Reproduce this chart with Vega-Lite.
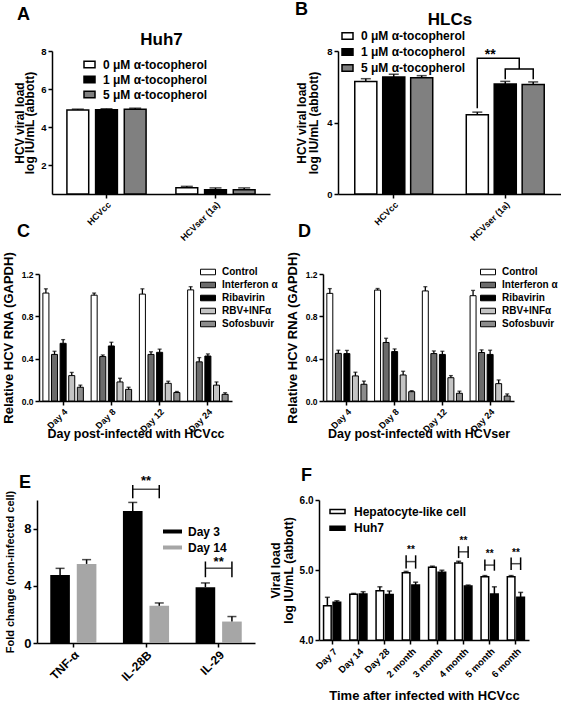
{
  "$schema": "https://vega.github.io/schema/vega-lite/v6.json",
  "background": "white",
  "padding": {"left": 2, "top": 1, "right": 0, "bottom": 0},
  "config": {
    "font": "Liberation Sans",
    "view": {"stroke": null},
    "axis": {"domainColor": "black", "domainWidth": 1.5, "tickColor": "black", "tickWidth": 1.5, "tickSize": 4, "labelColor": "black", "labelFontWeight": "bold", "titleFontWeight": "bold", "titleColor": "black", "grid": false, "labelFont": "Liberation Sans", "titleFont": "Liberation Sans", "labelPadding": 2},
    "legend": {"labelFontWeight": "bold", "labelColor": "black", "labelFont": "Liberation Sans", "labelLimit": 300, "symbolOpacity": 1},
    "title": {"fontWeight": "bold", "font": "Liberation Sans", "color": "black", "anchor": "start", "fontSize": 18, "frame": "group"}
  },
  "align": "none",
  "spacing": -21,
  "resolve": {"scale": {"fill": "independent", "xOffset": "independent"}},
  "vconcat": [
    {
      "spacing": 25,
      "resolve": {"scale": {"fill": "independent", "xOffset": "independent"}},
      "hconcat": [
        {
          "width": 233, "height": 143,
          "title": {"text": "A", "dx": -20, "offset": 6},
          "data": {"values": [
            {"cat": "HCVcc", "conc": "0 μM α-tocopherol", "v": 4.9, "hi": 4.95},
            {"cat": "HCVcc", "conc": "1 μM α-tocopherol", "v": 4.92, "hi": 4.97},
            {"cat": "HCVcc", "conc": "5 μM α-tocopherol", "v": 4.95, "hi": 5.0},
            {"cat": "HCVser (1a)", "conc": "0 μM α-tocopherol", "v": 0.83, "hi": 0.9},
            {"cat": "HCVser (1a)", "conc": "1 μM α-tocopherol", "v": 0.72, "hi": 0.82},
            {"cat": "HCVser (1a)", "conc": "5 μM α-tocopherol", "v": 0.72, "hi": 0.82}
          ]},
          "resolve": {"axis": {"x": "independent"}},
          "layer": [
            {
              "mark": {"type": "bar", "stroke": "black", "strokeWidth": 1.5},
              "encoding": {
                "x": {"field": "cat", "type": "nominal", "sort": null, "scale": {"paddingInner": 0, "paddingOuter": 0, "rangeMin": 15}, "axis": {"title": null, "labelAngle": -45, "labelAlign": "right", "labelBaseline": "top", "labelFontSize": 9}},
                "xOffset": {"field": "conc", "type": "nominal", "sort": null, "scale": {"paddingInner": 0.24, "paddingOuter": 0.52}},
                "y": {"field": "v", "type": "quantitative", "scale": {"domain": [0.5, 8], "nice": false, "zero": false}, "axis": {"offset": -15, "values": [2, 4, 6, 8], "title": ["HCV viral load", "log IU/mL (abbott)"], "titleFontSize": 12, "titleLineHeight": 10.5, "labelFontSize": 9.5, "titlePadding": 4}},
                "y2": {"datum": 0.5},
                "fill": {"field": "conc", "type": "nominal", "sort": null, "scale": {"range": ["white", "black", "#808080"]}, "legend": {"orient": "none", "legendX": 46, "legendY": 7, "title": null, "symbolType": "M-1,-0.6H1V0.6H-1Z", "symbolSize": 121, "symbolStrokeColor": "black", "symbolStrokeWidth": 1.5, "labelFontSize": 12, "labelOffset": 7, "rowPadding": 2}}
              }
            },
            {
              "mark": {"type": "rule", "strokeWidth": 1.5, "color": "black"},
              "encoding": {
                "x": {"field": "cat", "type": "nominal", "sort": null, "axis": {"orient": "top", "title": "Huh7", "titleFontSize": 17, "labels": false, "ticks": false, "domain": false, "titlePadding": 3}},
                "xOffset": {"field": "conc", "type": "nominal", "sort": null},
                "y": {"field": "v", "type": "quantitative", "axis": {"offset": -15, "values": [2, 4, 6, 8], "title": ["HCV viral load", "log IU/mL (abbott)"], "titleFontSize": 12, "titleLineHeight": 10.5, "labelFontSize": 9.5, "titlePadding": 4}},
                "y2": {"field": "hi"}
              }
            },
            {
              "mark": {"type": "tick", "thickness": 1.5, "size": 12, "color": "black"},
              "encoding": {
                "x": {"field": "cat", "type": "nominal", "sort": null, "axis": null},
                "xOffset": {"field": "conc", "type": "nominal", "sort": null},
                "y": {"field": "hi", "type": "quantitative", "axis": {"offset": -15, "values": [2, 4, 6, 8], "title": ["HCV viral load", "log IU/mL (abbott)"], "titleFontSize": 12, "titleLineHeight": 10.5, "labelFontSize": 9.5, "titlePadding": 4}}
              }
            }
          ]
        },
        {
          "width": 223, "height": 143,
          "title": {"text": "B", "dx": -43, "offset": -9},
          "resolve": {"scale": {"x": "independent"}, "axis": {"x": "independent"}},
          "layer": [
            {
              "data": {"values": [
                {"cat": "HCVcc", "conc": "0 μM α-tocopherol", "v": 6.3, "hi": 6.45},
                {"cat": "HCVcc", "conc": "1 μM α-tocopherol", "v": 6.55, "hi": 6.7},
                {"cat": "HCVcc", "conc": "5 μM α-tocopherol", "v": 6.5, "hi": 6.62},
                {"cat": "HCVser (1a)", "conc": "0 μM α-tocopherol", "v": 4.43, "hi": 4.58},
                {"cat": "HCVser (1a)", "conc": "1 μM α-tocopherol", "v": 6.15, "hi": 6.3},
                {"cat": "HCVser (1a)", "conc": "5 μM α-tocopherol", "v": 6.12, "hi": 6.27}
              ]},
              "layer": [
                {
                  "mark": {"type": "bar", "stroke": "black", "strokeWidth": 1.5},
                  "encoding": {
                    "x": {"field": "cat", "type": "nominal", "sort": null, "scale": {"paddingInner": 0, "paddingOuter": 0}, "axis": {"title": null, "labelAngle": -45, "labelAlign": "right", "labelBaseline": "top", "labelFontSize": 9}},
                    "xOffset": {"field": "conc", "type": "nominal", "sort": null, "scale": {"paddingInner": 0.21, "paddingOuter": 0.6}},
                    "y": {"field": "v", "type": "quantitative", "scale": {"domain": [0, 8], "nice": false}, "axis": {"values": [0, 2, 4, 6, 8], "title": ["HCV viral load", "log IU/mL (abbott)"], "titleFontSize": 12, "titleLineHeight": 12, "labelFontSize": 9.5, "titlePadding": 6}},
                    "fill": {"field": "conc", "type": "nominal", "sort": null, "scale": {"range": ["white", "black", "#808080"]}, "legend": {"orient": "none", "legendX": 3, "legendY": -21.5, "title": null, "symbolType": "M-1,-0.6H1V0.6H-1Z", "symbolSize": 121, "symbolStrokeColor": "black", "symbolStrokeWidth": 1.5, "labelFontSize": 12, "labelOffset": 7, "rowPadding": 3}}
                  }
                },
                {
                  "mark": {"type": "rule", "strokeWidth": 1.5, "color": "black"},
                  "encoding": {
                    "x": {"field": "cat", "type": "nominal", "sort": null, "axis": {"title": null, "labelAngle": -45, "labelAlign": "right", "labelBaseline": "top", "labelFontSize": 9}},
                    "xOffset": {"field": "conc", "type": "nominal", "sort": null},
                    "y": {"field": "v", "type": "quantitative", "axis": {"values": [0, 2, 4, 6, 8], "title": ["HCV viral load", "log IU/mL (abbott)"], "titleFontSize": 12, "titleLineHeight": 12, "labelFontSize": 9.5, "titlePadding": 6}},
                    "y2": {"field": "hi"}
                  }
                },
                {
                  "mark": {"type": "tick", "thickness": 1.5, "size": 10, "color": "black"},
                  "encoding": {
                    "x": {"field": "cat", "type": "nominal", "sort": null, "axis": {"title": null, "labelAngle": -45, "labelAlign": "right", "labelBaseline": "top", "labelFontSize": 9}},
                    "xOffset": {"field": "conc", "type": "nominal", "sort": null},
                    "y": {"field": "hi", "type": "quantitative", "axis": {"values": [0, 2, 4, 6, 8], "title": ["HCV viral load", "log IU/mL (abbott)"], "titleFontSize": 12, "titleLineHeight": 12, "labelFontSize": 9.5, "titlePadding": 6}}
                  }
                }
              ]
            },
            {
              "layer": [
                {
                  "data": {"values": [
                    {"g": 1, "o": 1, "x": 1.249, "y": 4.8},
                    {"g": 1, "o": 2, "x": 1.249, "y": 7.6},
                    {"g": 1, "o": 3, "x": 1.6255, "y": 7.6},
                    {"g": 1, "o": 4, "x": 1.6255, "y": 7.0},
                    {"g": 2, "o": 1, "x": 1.5, "y": 6.42},
                    {"g": 2, "o": 2, "x": 1.5, "y": 7.0},
                    {"g": 2, "o": 3, "x": 1.751, "y": 7.0},
                    {"g": 2, "o": 4, "x": 1.751, "y": 6.42}
                  ]},
                  "mark": {"type": "line", "strokeWidth": 1.5, "color": "black", "interpolate": "linear"},
                  "encoding": {
                    "x": {"field": "x", "type": "quantitative", "scale": {"domain": [0, 2], "nice": false, "zero": false}, "axis": {"orient": "top", "title": "HLCs", "titleFontSize": 17, "labels": false, "ticks": false, "domain": false, "titlePadding": 23}},
                    "y": {"field": "y", "type": "quantitative"},
                    "detail": {"field": "g"},
                    "order": {"field": "o"}
                  }
                },
                {
                  "data": {"values": [{"x": 1.365, "y": 7.75, "t": "**"}]},
                  "mark": {"type": "text", "fontSize": 14, "fontWeight": "bold", "baseline": "middle", "color": "black"},
                  "encoding": {
                    "x": {"field": "x", "type": "quantitative", "scale": {"domain": [0, 2], "nice": false, "zero": false}, "axis": {"orient": "top", "title": "HLCs", "titleFontSize": 17, "labels": false, "ticks": false, "domain": false, "titlePadding": 23}},
                    "y": {"field": "y", "type": "quantitative"},
                    "text": {"field": "t"}
                  }
                }
              ]
            }
          ]
        }
      ]
    },
    {
      "spacing": 26,
      "align": "none",
      "resolve": {"scale": {"fill": "independent", "xOffset": "independent"}},
      "vconcat": [
        {
          "spacing": 8,
          "resolve": {"scale": {"fill": "independent", "xOffset": "independent"}},
          "hconcat": [
            {
              "width": 195, "height": 127,
              "title": {"text": "C", "dx": -20, "offset": 11},
              "data": {"values": [
                {"day": "Day 4", "trt": "Control", "v": 1.02, "hi": 1.06},
                {"day": "Day 4", "trt": "Interferon α", "v": 0.44, "hi": 0.47},
                {"day": "Day 4", "trt": "Ribavirin", "v": 0.545, "hi": 0.58},
                {"day": "Day 4", "trt": "RBV+INFα", "v": 0.24, "hi": 0.27},
                {"day": "Day 4", "trt": "Sofosbuvir", "v": 0.13, "hi": 0.15},
                {"day": "Day 8", "trt": "Control", "v": 1.0, "hi": 1.02},
                {"day": "Day 8", "trt": "Interferon α", "v": 0.42, "hi": 0.435},
                {"day": "Day 8", "trt": "Ribavirin", "v": 0.52, "hi": 0.555},
                {"day": "Day 8", "trt": "RBV+INFα", "v": 0.18, "hi": 0.215},
                {"day": "Day 8", "trt": "Sofosbuvir", "v": 0.11, "hi": 0.13},
                {"day": "Day 12", "trt": "Control", "v": 1.01, "hi": 1.06},
                {"day": "Day 12", "trt": "Interferon α", "v": 0.44, "hi": 0.465},
                {"day": "Day 12", "trt": "Ribavirin", "v": 0.46, "hi": 0.49},
                {"day": "Day 12", "trt": "RBV+INFα", "v": 0.167, "hi": 0.187},
                {"day": "Day 12", "trt": "Sofosbuvir", "v": 0.08, "hi": 0.09},
                {"day": "Day 24", "trt": "Control", "v": 1.05, "hi": 1.08},
                {"day": "Day 24", "trt": "Interferon α", "v": 0.37, "hi": 0.41},
                {"day": "Day 24", "trt": "Ribavirin", "v": 0.425, "hi": 0.445},
                {"day": "Day 24", "trt": "RBV+INFα", "v": 0.15, "hi": 0.18},
                {"day": "Day 24", "trt": "Sofosbuvir", "v": 0.063, "hi": 0.078}
              ]},
              "layer": [
                {
                  "mark": {"type": "bar", "stroke": "black", "strokeWidth": 1},
                  "encoding": {
                    "x": {"field": "day", "type": "nominal", "sort": null, "scale": {"paddingInner": 0, "paddingOuter": 0, "rangeMin": 2}, "axis": {"title": "Day post-infected with HCVcc", "titleFontSize": 12.5, "titlePadding": -6, "labelAngle": -45, "labelAlign": "right", "labelBaseline": "top", "labelFontSize": 9}},
                    "xOffset": {"field": "trt", "type": "nominal", "sort": null, "scale": {"paddingInner": 0.3, "paddingOuter": 0.45}},
                    "y": {"field": "v", "type": "quantitative", "scale": {"domain": [0, 1.2], "nice": false}, "axis": {"offset": -2, "values": [0, 0.2, 0.4, 0.6, 0.8, 1.0, 1.2], "format": ".1f", "title": "Relative HCV RNA (GAPDH)", "titleFontSize": 13, "labelFontSize": 8.5, "titlePadding": 6}},
                    "fill": {"field": "trt", "type": "nominal", "sort": null, "scale": {"range": ["white", "#6b6b6b", "black", "#c4c4c4", "#8c8c8c"]}, "legend": {"orient": "none", "legendX": 163, "legendY": -10, "title": null, "symbolType": "M-1,-0.37H1V0.37H-1Z", "symbolSize": 225, "symbolStrokeColor": "black", "symbolStrokeWidth": 1, "labelFontSize": 10, "labelOffset": 6, "rowPadding": -4}}
                  }
                },
                {
                  "mark": {"type": "rule", "strokeWidth": 1.3, "color": "black"},
                  "encoding": {
                    "x": {"field": "day", "type": "nominal", "sort": null},
                    "xOffset": {"field": "trt", "type": "nominal", "sort": null},
                    "y": {"field": "v", "type": "quantitative"},
                    "y2": {"field": "hi"}
                  }
                },
                {
                  "mark": {"type": "tick", "thickness": 1.3, "size": 4, "color": "black"},
                  "encoding": {
                    "x": {"field": "day", "type": "nominal", "sort": null},
                    "xOffset": {"field": "trt", "type": "nominal", "sort": null},
                    "y": {"field": "hi", "type": "quantitative"}
                  }
                }
              ]
            },
            {
              "width": 191, "height": 127,
              "title": {"text": "D", "dx": -25, "offset": 11},
              "data": {"values": [
                {"day": "Day 4", "trt": "Control", "v": 1.017, "hi": 1.062},
                {"day": "Day 4", "trt": "Interferon α", "v": 0.45, "hi": 0.48},
                {"day": "Day 4", "trt": "Ribavirin", "v": 0.448, "hi": 0.478},
                {"day": "Day 4", "trt": "RBV+INFα", "v": 0.237, "hi": 0.272},
                {"day": "Day 4", "trt": "Sofosbuvir", "v": 0.158, "hi": 0.188},
                {"day": "Day 8", "trt": "Control", "v": 1.048, "hi": 1.063},
                {"day": "Day 8", "trt": "Interferon α", "v": 0.553, "hi": 0.593},
                {"day": "Day 8", "trt": "Ribavirin", "v": 0.467, "hi": 0.492},
                {"day": "Day 8", "trt": "RBV+INFα", "v": 0.246, "hi": 0.281},
                {"day": "Day 8", "trt": "Sofosbuvir", "v": 0.088, "hi": 0.098},
                {"day": "Day 12", "trt": "Control", "v": 1.04, "hi": 1.08},
                {"day": "Day 12", "trt": "Interferon α", "v": 0.448, "hi": 0.473},
                {"day": "Day 12", "trt": "Ribavirin", "v": 0.44, "hi": 0.47},
                {"day": "Day 12", "trt": "RBV+INFα", "v": 0.22, "hi": 0.24},
                {"day": "Day 12", "trt": "Sofosbuvir", "v": 0.073, "hi": 0.093},
                {"day": "Day 24", "trt": "Control", "v": 0.995, "hi": 1.045},
                {"day": "Day 24", "trt": "Interferon α", "v": 0.458, "hi": 0.483},
                {"day": "Day 24", "trt": "Ribavirin", "v": 0.44, "hi": 0.48},
                {"day": "Day 24", "trt": "RBV+INFα", "v": 0.164, "hi": 0.199},
                {"day": "Day 24", "trt": "Sofosbuvir", "v": 0.047, "hi": 0.067}
              ]},
              "layer": [
                {
                  "mark": {"type": "bar", "stroke": "black", "strokeWidth": 1},
                  "encoding": {
                    "x": {"field": "day", "type": "nominal", "sort": null, "scale": {"paddingInner": 0, "paddingOuter": 0}, "axis": {"title": "Day post-infected with HCVser", "titleFontSize": 12.5, "titlePadding": -6, "labelAngle": -45, "labelAlign": "right", "labelBaseline": "top", "labelFontSize": 9}},
                    "xOffset": {"field": "trt", "type": "nominal", "sort": null, "scale": {"paddingInner": 0.3, "paddingOuter": 0.45}},
                    "y": {"field": "v", "type": "quantitative", "scale": {"domain": [0, 1.2], "nice": false}, "axis": {"values": [0, 0.2, 0.4, 0.6, 0.8, 1.0, 1.2], "format": ".1f", "title": "Relative HCV RNA (GAPDH)", "titleFontSize": 13, "labelFontSize": 8.5, "titlePadding": 6}},
                    "fill": {"field": "trt", "type": "nominal", "sort": null, "scale": {"range": ["white", "#6b6b6b", "black", "#c4c4c4", "#8c8c8c"]}, "legend": {"orient": "none", "legendX": 157, "legendY": -10, "title": null, "symbolType": "M-1,-0.37H1V0.37H-1Z", "symbolSize": 225, "symbolStrokeColor": "black", "symbolStrokeWidth": 1, "labelFontSize": 10, "labelOffset": 6, "rowPadding": -4}}
                  }
                },
                {
                  "mark": {"type": "rule", "strokeWidth": 1.3, "color": "black"},
                  "encoding": {
                    "x": {"field": "day", "type": "nominal", "sort": null},
                    "xOffset": {"field": "trt", "type": "nominal", "sort": null},
                    "y": {"field": "v", "type": "quantitative"},
                    "y2": {"field": "hi"}
                  }
                },
                {
                  "mark": {"type": "tick", "thickness": 1.3, "size": 4, "color": "black"},
                  "encoding": {
                    "x": {"field": "day", "type": "nominal", "sort": null},
                    "xOffset": {"field": "trt", "type": "nominal", "sort": null},
                    "y": {"field": "hi", "type": "quantitative"}
                  }
                }
              ]
            }
          ]
        },
        {
          "spacing": 14,
          "resolve": {"scale": {"fill": "independent", "xOffset": "independent"}},
          "hconcat": [
            {
              "width": 218, "height": 143,
              "title": {"text": "E", "dx": -18, "offset": -17},
              "layer": [
                {
                  "data": {"values": [
                    {"cat": "TNF-α", "day": "Day 3", "v": 4.75, "hi": 5.22},
                    {"cat": "TNF-α", "day": "Day 14", "v": 5.53, "hi": 5.83},
                    {"cat": "IL-28B", "day": "Day 3", "v": 9.23, "hi": 9.83},
                    {"cat": "IL-28B", "day": "Day 14", "v": 2.6, "hi": 2.8},
                    {"cat": "IL-29", "day": "Day 3", "v": 3.9, "hi": 4.2},
                    {"cat": "IL-29", "day": "Day 14", "v": 1.5, "hi": 1.85}
                  ]},
                  "layer": [
                    {
                      "mark": {"type": "bar"},
                      "encoding": {
                        "x": {"field": "cat", "type": "nominal", "sort": null, "scale": {"domain": ["TNF-α", "IL-28B", "IL-29"], "paddingInner": 0, "paddingOuter": 0}, "axis": {"title": null, "labelAngle": -45, "labelAlign": "right", "labelBaseline": "top", "labelFontSize": 12}},
                        "xOffset": {"field": "day", "type": "nominal", "sort": null, "scale": {"domain": ["Day 3", "Day 14"], "paddingInner": 0.26, "paddingOuter": 0.5}},
                        "y": {"field": "v", "type": "quantitative", "scale": {"domain": [0, 10], "nice": false}, "axis": {"values": [0, 2, 4, 6, 8, 10], "title": "Fold change (non-infected cell)", "titleFontSize": 11, "labelFontSize": 13, "titlePadding": 8}},
                        "fill": {"field": "day", "type": "nominal", "sort": null, "scale": {"range": ["black", "#a6a6a6"]}, "legend": {"orient": "none", "legendX": 126, "legendY": 22, "title": null, "symbolType": "M-1,-0.21H1V0.21H-1Z", "symbolSize": 361, "symbolStrokeWidth": 0, "labelFontSize": 12, "labelOffset": 6, "rowPadding": -6.3}}
                      }
                    },
                    {
                      "mark": {"type": "rule", "strokeWidth": 1.5, "color": "black"},
                      "encoding": {
                        "x": {"field": "cat", "type": "nominal", "sort": null},
                        "xOffset": {"field": "day", "type": "nominal", "sort": null},
                        "y": {"field": "v", "type": "quantitative"},
                        "y2": {"field": "hi"}
                      }
                    },
                    {
                      "mark": {"type": "tick", "thickness": 1.5, "size": 9, "color": "black"},
                      "encoding": {
                        "x": {"field": "cat", "type": "nominal", "sort": null},
                        "xOffset": {"field": "day", "type": "nominal", "sort": null},
                        "y": {"field": "hi", "type": "quantitative"}
                      }
                    }
                  ]
                },
                {
                  "data": {"values": [
                    {"cat": "IL-28B", "day": "Day 3", "lo": 10.12, "up": 11.05},
                    {"cat": "IL-28B", "day": "Day 14", "lo": 10.12, "up": 11.05},
                    {"cat": "IL-29", "day": "Day 3", "lo": 4.6, "up": 5.7},
                    {"cat": "IL-29", "day": "Day 14", "lo": 4.6, "up": 5.7}
                  ]},
                  "mark": {"type": "rule", "strokeWidth": 1.5, "color": "black"},
                  "encoding": {
                    "x": {"field": "cat", "type": "nominal", "sort": null},
                    "xOffset": {"field": "day", "type": "nominal", "sort": null},
                    "y": {"field": "lo", "type": "quantitative"},
                    "y2": {"field": "up"}
                  }
                },
                {
                  "data": {"values": [
                    {"cat": "IL-28B", "y": 10.75, "t": "**", "ty": 11.3},
                    {"cat": "IL-29", "y": 5.23, "t": "**", "ty": 5.68}
                  ]},
                  "layer": [
                    {
                      "mark": {"type": "tick", "thickness": 1.5, "size": 26, "color": "black"},
                      "encoding": {
                        "x": {"field": "cat", "type": "nominal", "sort": null},
                        "y": {"field": "y", "type": "quantitative"}
                      }
                    },
                    {
                      "mark": {"type": "text", "fontSize": 13, "fontWeight": "bold", "baseline": "middle", "color": "black"},
                      "encoding": {
                        "x": {"field": "cat", "type": "nominal", "sort": null},
                        "y": {"field": "ty", "type": "quantitative"},
                        "text": {"field": "t"}
                      }
                    }
                  ]
                }
              ]
            },
            {
              "width": 210, "height": 140,
              "title": {"text": "F", "dx": -18, "offset": 10},
              "layer": [
                {
                  "data": {"values": [
                    {"t": "Day 7", "cell": "Hepatocyte-like cell", "v": 4.49, "hi": 4.61},
                    {"t": "Day 7", "cell": "Huh7", "v": 4.54, "hi": 4.56},
                    {"t": "Day 14", "cell": "Hepatocyte-like cell", "v": 4.655, "hi": 4.665},
                    {"t": "Day 14", "cell": "Huh7", "v": 4.657, "hi": 4.69},
                    {"t": "Day 28", "cell": "Hepatocyte-like cell", "v": 4.705, "hi": 4.76},
                    {"t": "Day 28", "cell": "Huh7", "v": 4.65, "hi": 4.7},
                    {"t": "2 month", "cell": "Hepatocyte-like cell", "v": 4.96, "hi": 4.98},
                    {"t": "2 month", "cell": "Huh7", "v": 4.786, "hi": 4.826},
                    {"t": "3 month", "cell": "Hepatocyte-like cell", "v": 5.04, "hi": 5.055},
                    {"t": "3 month", "cell": "Huh7", "v": 4.967, "hi": 4.997},
                    {"t": "4 month", "cell": "Hepatocyte-like cell", "v": 5.1, "hi": 5.125},
                    {"t": "4 month", "cell": "Huh7", "v": 4.77, "hi": 4.785},
                    {"t": "5 month", "cell": "Hepatocyte-like cell", "v": 4.905, "hi": 4.92},
                    {"t": "5 month", "cell": "Huh7", "v": 4.657, "hi": 4.76},
                    {"t": "6 month", "cell": "Hepatocyte-like cell", "v": 4.905, "hi": 4.92},
                    {"t": "6 month", "cell": "Huh7", "v": 4.61, "hi": 4.68}
                  ]},
                  "layer": [
                    {
                      "mark": {"type": "bar", "stroke": "black", "strokeWidth": 1.5},
                      "encoding": {
                        "x": {"field": "t", "type": "nominal", "sort": null, "scale": {"domain": ["Day 7", "Day 14", "Day 28", "2 month", "3 month", "4 month", "5 month", "6 month"], "paddingInner": 0, "paddingOuter": 0}, "axis": {"title": "Time after infected with HCVcc", "titleFontSize": 13, "titlePadding": 11, "labelAngle": -45, "labelAlign": "right", "labelBaseline": "top", "labelFontSize": 9.5}},
                        "xOffset": {"field": "cell", "type": "nominal", "sort": null, "scale": {"domain": ["Hepatocyte-like cell", "Huh7"], "paddingInner": 0.2, "paddingOuter": 0.48}},
                        "y": {"field": "v", "type": "quantitative", "scale": {"domain": [4, 6], "nice": false, "zero": false}, "axis": {"values": [4, 4.5, 5, 5.5, 6], "format": ".1f", "title": ["Viral load", "log IU/mL (abbott)"], "titleFontSize": 12.5, "titleLineHeight": 13, "labelFontSize": 10, "titlePadding": 4}},
                        "y2": {"datum": 4},
                        "fill": {"field": "cell", "type": "nominal", "sort": null, "scale": {"range": ["white", "black"]}, "legend": {"orient": "none", "legendX": 10, "legendY": 3, "title": null, "symbolType": "M-1,-0.27H1V0.27H-1Z", "symbolSize": 225, "symbolStrokeColor": "black", "symbolStrokeWidth": 1.5, "labelFontSize": 12, "labelOffset": 8, "rowPadding": 1.7}}
                      }
                    },
                    {
                      "mark": {"type": "rule", "strokeWidth": 1.5, "color": "black"},
                      "encoding": {
                        "x": {"field": "t", "type": "nominal", "sort": null},
                        "xOffset": {"field": "cell", "type": "nominal", "sort": null},
                        "y": {"field": "v", "type": "quantitative"},
                        "y2": {"field": "hi"}
                      }
                    },
                    {
                      "mark": {"type": "tick", "thickness": 1.5, "size": 5, "color": "black"},
                      "encoding": {
                        "x": {"field": "t", "type": "nominal", "sort": null},
                        "xOffset": {"field": "cell", "type": "nominal", "sort": null},
                        "y": {"field": "hi", "type": "quantitative"}
                      }
                    }
                  ]
                },
                {
                  "data": {"values": [
                    {"t": "2 month", "cell": "Hepatocyte-like cell", "lo": 5.02, "up": 5.21},
                    {"t": "2 month", "cell": "Huh7", "lo": 5.02, "up": 5.21},
                    {"t": "4 month", "cell": "Hepatocyte-like cell", "lo": 5.17, "up": 5.34},
                    {"t": "4 month", "cell": "Huh7", "lo": 5.17, "up": 5.34},
                    {"t": "5 month", "cell": "Hepatocyte-like cell", "lo": 4.99, "up": 5.15},
                    {"t": "5 month", "cell": "Huh7", "lo": 4.99, "up": 5.15},
                    {"t": "6 month", "cell": "Hepatocyte-like cell", "lo": 5.0, "up": 5.18},
                    {"t": "6 month", "cell": "Huh7", "lo": 5.0, "up": 5.18}
                  ]},
                  "mark": {"type": "rule", "strokeWidth": 1.5, "color": "black"},
                  "encoding": {
                    "x": {"field": "t", "type": "nominal", "sort": null},
                    "xOffset": {"field": "cell", "type": "nominal", "sort": null},
                    "y": {"field": "lo", "type": "quantitative"},
                    "y2": {"field": "up"}
                  }
                },
                {
                  "data": {"values": [
                    {"t": "2 month", "y": 5.12, "s": "**", "ty": 5.29},
                    {"t": "4 month", "y": 5.26, "s": "**", "ty": 5.42},
                    {"t": "5 month", "y": 5.07, "s": "**", "ty": 5.23},
                    {"t": "6 month", "y": 5.09, "s": "**", "ty": 5.25}
                  ]},
                  "layer": [
                    {
                      "mark": {"type": "tick", "thickness": 1.5, "size": 10, "color": "black"},
                      "encoding": {
                        "x": {"field": "t", "type": "nominal", "sort": null},
                        "y": {"field": "y", "type": "quantitative"}
                      }
                    },
                    {
                      "mark": {"type": "text", "fontSize": 10, "fontWeight": "bold", "baseline": "middle", "color": "black"},
                      "encoding": {
                        "x": {"field": "t", "type": "nominal", "sort": null},
                        "y": {"field": "ty", "type": "quantitative"},
                        "text": {"field": "s"}
                      }
                    }
                  ]
                }
              ]
            }
          ]
        }
      ]
    }
  ]
}
